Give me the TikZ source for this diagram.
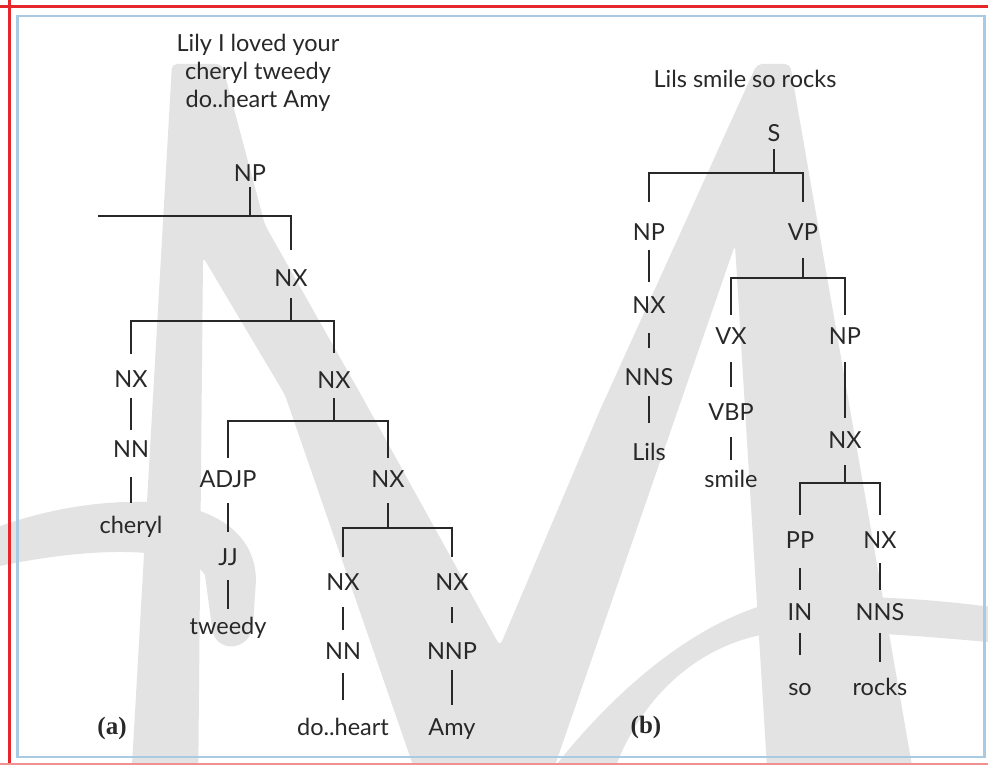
\documentclass[tikz,border=0pt]{standalone}
\usepackage{fontspec}
\setmainfont{Lato}
\newfontfamily\tagserif{Liberation Serif}
\usetikzlibrary{calc}

\definecolor{ink}{HTML}{282828}
\definecolor{wm}{HTML}{E3E3E3}
\definecolor{framered}{HTML}{E5262B}
\definecolor{framepink}{HTML}{F09090}
\definecolor{frameblue}{HTML}{A8CAE2}

\newcommand\lblfont{\fontsize{23.5}{28}\selectfont}
\newcommand\tagfont{\tagserif\bfseries\fontsize{25}{29}\selectfont}

\begin{document}
\begin{tikzpicture}[x=1pt,y=-1pt,line join=miter,
  lbl/.style={inner sep=0pt,text=ink,text height=17pt,text depth=0pt,font=\lblfont},
  tag/.style={inner sep=0pt,text=ink,font=\tagfont},
  br/.style={draw=ink,line width=1.8pt}]
\useasboundingbox (0,0) rectangle (988,765);

% watermark: large grey M with two sweeping strokes
\begin{scope}
  \clip (0,0) rectangle (988,765);
  \fill[wm,even odd rule,rounded corners=5pt]
    (130,800) -- (172,64) -- (222,64) -- (265,225) -- (360,393) -- (500,646)
    -- (600,410) -- (757,64) -- (790,64) -- (918,800) -- cycle
    (203,257) -- (285,395) -- (425,800) -- (198,800) -- cycle
    (735,245) -- (769,800) -- (543,800) -- cycle;
  \fill[wm]
    (-10,530) .. controls (40,510) and (100,500) .. (150,502)
    .. controls (210,505) and (255,530) .. (256,580) -- (253,625)
    .. controls (250,652) and (215,654) .. (212,628) -- (205,575)
    .. controls (190,550) and (110,542) .. (-10,568) -- cycle;
  \fill[wm]
    (530,800) .. controls (600,700) and (700,610) .. (800,597)
    .. controls (900,595) and (960,603) .. (1000,608) -- (1000,643)
    .. controls (920,636) and (850,630) .. (780,632)
    .. controls (700,640) and (630,700) .. (605,800) -- cycle;
\end{scope}

% frame
\draw[framered,line width=3pt] (9.5,0) -- (9.5,765);
\draw[framered,line width=3pt] (0,6.5) -- (988,6.5);
\draw[framepink,line width=2pt] (0,764) -- (988,764);
\draw[frameblue,line width=2.5pt] (17.5,16) rectangle (984.5,757);

% ---------------- tree (a) ----------------
\node[lbl] (t1) at (258,43.5) {Lily I loved your};
\node[lbl] (t2) at (258,71.5) {cheryl tweedy};
\node[lbl] (t3) at (258,99.5) {do..heart Amy};

\node[lbl] (a0) at (250,173) {NP};
\node[lbl] (a1) at (291,278) {NX};
\node[lbl] (a2) at (131,379) {NX};
\node[lbl] (a3) at (334,380) {NX};
\node[lbl] (a4) at (131,449) {NN};
\node[lbl] (a5) at (131,524.5) {cheryl};
\node[lbl] (a6) at (228,479) {ADJP};
\node[lbl] (a7) at (388,479) {NX};
\node[lbl] (a8) at (228,557) {JJ};
\node[lbl] (a9) at (228,625.5) {tweedy};
\node[lbl] (a10) at (343,582) {NX};
\node[lbl] (a11) at (452,582) {NX};
\node[lbl] (a12) at (343,651) {NN};
\node[lbl] (a13) at (452,651) {NNP};
\node[lbl] (a14) at (343,726.5) {do..heart};
\node[lbl] (a15) at (452,726.5) {Amy};

\coordinate (ja) at (250,216);
\coordinate (ja0) at (98,216);
\draw[br] ([yshift=-5.5pt]a0.south) -- (ja);
\draw[br] (ja0) -| ([yshift=19.5pt]a1.north);
\coordinate (jb) at (291,321);
\draw[br] ([yshift=-11.5pt]a1.south) -- (jb);
\draw[br] ([yshift=16.5pt]a2.north) |- (jb) -| ([yshift=18.5pt]a3.north);
\draw[br] ([yshift=-10.5pt]a2.south) -- ([yshift=10.5pt]a4.north);
\draw[br] ([yshift=-19.5pt]a4.south) -- ([yshift=13pt]a5.north);
\coordinate (jc) at (334,421);
\draw[br] ([yshift=-9.5pt]a3.south) -- (jc);
\draw[br] ([yshift=12.5pt]a6.north) |- (jc) -| ([yshift=12.5pt]a7.north);
\draw[br] ([yshift=-15.5pt]a6.south) -- ([yshift=16.5pt]a8.north);
\draw[br] ([yshift=-14.5pt]a8.south) -- ([yshift=8pt]a9.north);
\coordinate (jd) at (388,528);
\draw[br] ([yshift=-15.5pt]a7.south) -- (jd);
\draw[br] ([yshift=16.5pt]a10.north) |- (jd) -| ([yshift=16.5pt]a11.north);
\draw[br] ([yshift=-16.5pt]a10.south) -- ([yshift=12.5pt]a12.north);
\draw[br] ([yshift=-13.5pt]a12.south) -- ([yshift=18pt]a14.north);
\draw[br] ([yshift=-16.5pt]a11.south) -- ([yshift=19.5pt]a13.north);
\draw[br] ([yshift=-10.5pt]a13.south) -- ([yshift=13pt]a15.north);

\node[tag] (pa) at (112,728) {(a)};

% ---------------- tree (b) ----------------
\node[lbl] (tb) at (745,79.5) {Lils smile so rocks};
\node[lbl] (b0) at (774,133.5) {S};
\node[lbl] (b1) at (649,232) {NP};
\node[lbl] (b2) at (803,232) {VP};
\node[lbl] (b3) at (649,305) {NX};
\node[lbl] (b4) at (649,377) {NNS};
\node[lbl] (b5) at (649,451.5) {Lils};
\node[lbl] (b6) at (731,336) {VX};
\node[lbl] (b7) at (845,336) {NP};
\node[lbl] (b8) at (731,411.5) {VBP};
\node[lbl] (b9) at (731,478.5) {smile};
\node[lbl] (b10) at (845,440) {NX};
\node[lbl] (b11) at (800,540) {PP};
\node[lbl] (b12) at (880,540) {NX};
\node[lbl] (b13) at (800,611.5) {IN};
\node[lbl] (b14) at (880,611.5) {NNS};
\node[lbl] (b15) at (800,686.5) {so};
\node[lbl] (b16) at (880,686.5) {rocks};

\coordinate (je) at (774,173);
\draw[br] ([yshift=-7pt]b0.south) -- (je);
\draw[br] ([yshift=21.5pt]b1.north) |- (je) -| ([yshift=21.5pt]b2.north);
\draw[br] ([yshift=-9.5pt]b1.south) -- ([yshift=14.5pt]b3.north);
\draw[br] ([yshift=-19.5pt]b3.south) -- ([yshift=20.5pt]b4.north);
\draw[br] ([yshift=-10.5pt]b4.south) -- ([yshift=20pt]b5.north);
\coordinate (jf) at (803,278);
\draw[br] ([yshift=-17.5pt]b2.south) -- (jf);
\draw[br] ([yshift=12.5pt]b6.north) |- (jf) -| ([yshift=12.5pt]b7.north);
\draw[br] ([yshift=-17.5pt]b6.south) -- ([yshift=16pt]b8.north);
\draw[br] ([yshift=-17pt]b8.south) -- ([yshift=10pt]b9.north);
\draw[br] ([yshift=-17.5pt]b7.south) -- ([yshift=13.5pt]b10.north);
\coordinate (jg) at (845,483);
\draw[br] ([yshift=-16.5pt]b10.south) -- (jg);
\draw[br] ([yshift=16.5pt]b11.north) |- (jg) -| ([yshift=16.5pt]b12.north);
\draw[br] ([yshift=-19.5pt]b11.south) -- ([yshift=13pt]b13.north);
\draw[br] ([yshift=-13pt]b13.south) -- ([yshift=23pt]b15.north);
\draw[br] ([yshift=-14.5pt]b12.south) -- ([yshift=13pt]b14.north);
\draw[br] ([yshift=-13pt]b14.south) -- ([yshift=16pt]b16.north);

\node[tag] (pb) at (646,727) {(b)};
\end{tikzpicture}
\end{document}
